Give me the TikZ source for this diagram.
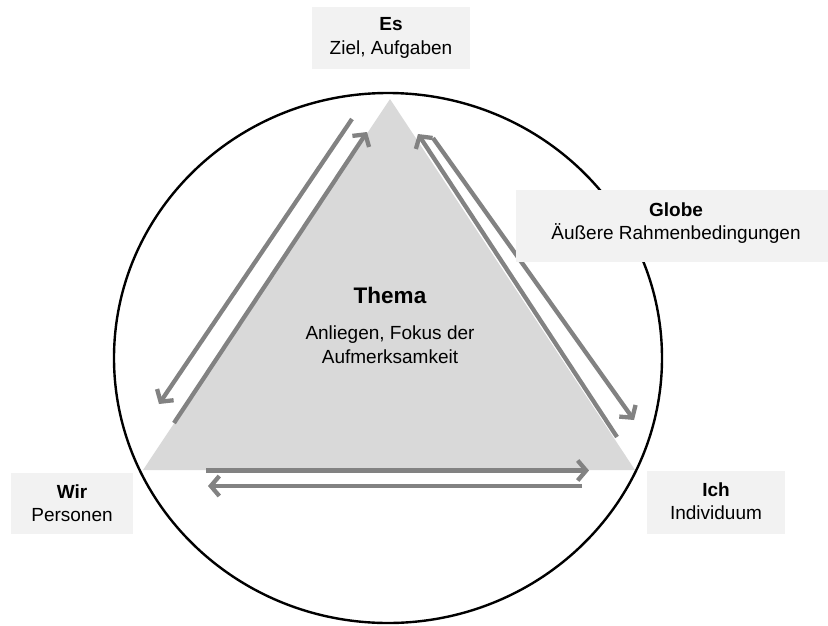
\documentclass[tikz,border=0pt]{standalone}
\usepackage{fontspec}
\setmainfont{Liberation Sans}
\usetikzlibrary{arrows.meta}
\begin{document}
\begin{tikzpicture}[x=1pt,y=-1pt,
  lbl/.style={fill=boxgray,inner sep=0pt,align=center,font=\fontsize{19}{23.5}\selectfont},
  conn/.style={draw=arrgray,line width=4.3pt,-{Straight Barb[length=8.5pt,width=20pt,line width=4.3pt]}},
  ]
\definecolor{boxgray}{HTML}{F2F2F2}
\definecolor{trigray}{HTML}{D9D9D9}
\definecolor{arrgray}{HTML}{828282}
\useasboundingbox (0,0) rectangle (828,625);
% circle
\draw[line width=2.4pt] (388,358) ellipse [x radius=274, y radius=265];
% triangle
\coordinate (top) at (390,99);
\coordinate (bl) at (143,470);
\coordinate (br) at (635,470);
\fill[trigray] (top) -- (bl) -- (br) -- cycle;
% arrow end points
\coordinate (l1s) at (352,119); \coordinate (l1e) at (159,404);
\coordinate (l2s) at (174,423); \coordinate (l2e) at (367,132);
\coordinate (r1s) at (617,437); \coordinate (r1e) at (418,134);
\coordinate (r2s) at (433,138); \coordinate (r2e) at (634,420);
\coordinate (b1s) at (206,470.5); \coordinate (b1e) at (589,470.5);
\coordinate (b2s) at (582,486); \coordinate (b2e) at (208,486);
\draw[conn] (l1s) -- (l1e);
\draw[conn] (l2s) -- (l2e);
\draw[conn] (r1s) -- (r1e);
\draw[conn] (r2s) -- (r2e);
\draw[conn] (b1s) -- (b1e);
\draw[conn] (b2s) -- (b2e);
% boxes
\fill[boxgray] (312,7) rectangle (470,69);
\node[lbl] (es) at (391,38) {\textbf{Es}\\Ziel, Aufgaben};
\fill[boxgray] (516,190) rectangle (828,262);
\node[lbl] (globe) at (676,223) {\textbf{Globe}\\Äußere Rahmenbedingungen};
\fill[boxgray] (11,473) rectangle (133,534);
\node[lbl] (wir) at (72,503) {\textbf{Wir}\\Personen};
\fill[boxgray] (647,471) rectangle (785,534);
\node[lbl] (ich) at (716,501) {\textbf{Ich}\\Individuum};
% Thema
\node[font=\fontsize{22.5}{26}\selectfont\bfseries] (thema) at (390,295) {Thema};
\node[align=center,font=\fontsize{19}{24}\selectfont] (anl) at (390,345) {Anliegen, Fokus der\\Aufmerksamkeit};
\end{tikzpicture}
\end{document}
